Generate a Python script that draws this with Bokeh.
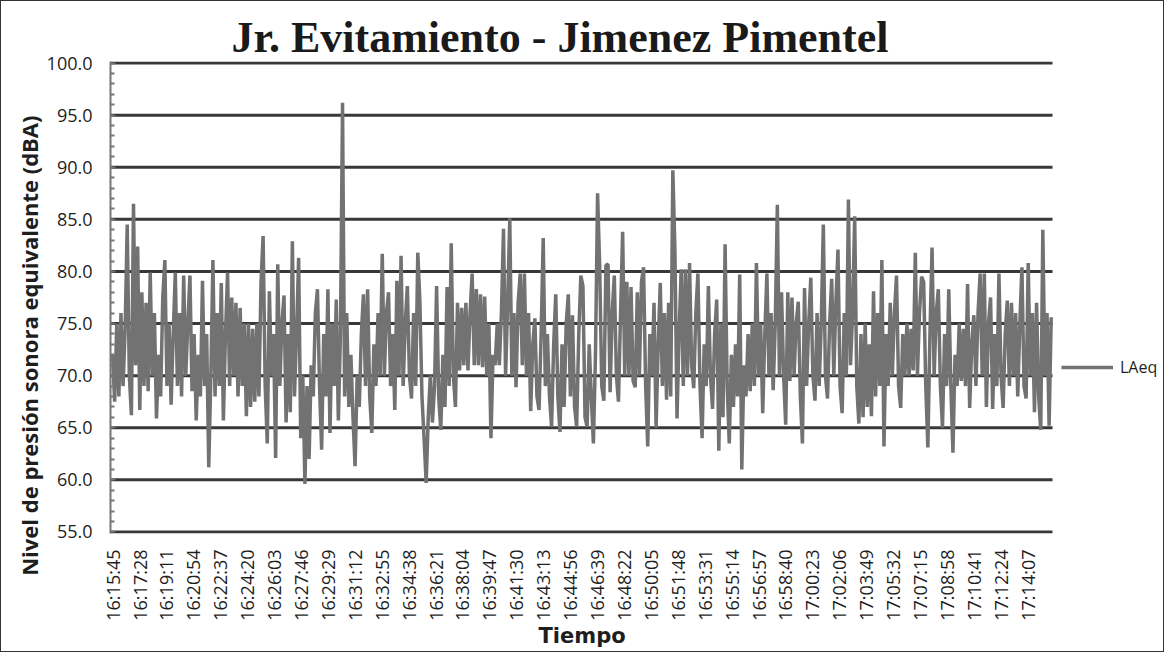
import math
from bokeh.plotting import figure
from bokeh.models import Range1d, FixedTicker, Legend, LegendItem, PrintfTickFormatter, Title
from bokeh.embed import file_html
from bokeh.resources import INLINE

title_text = "Jr. Evitamiento - Jimenez Pimentel"
y_title = "Nivel de presión sonora equivalente (dBA)"
x_title = "Tiempo"
series_name = "LAeq"

tick_labels = [
    "16:15:45", "16:17:28", "16:19:11", "16:20:54", "16:22:37", "16:24:20", "16:26:03",
    "16:27:46", "16:29:29", "16:31:12", "16:32:55", "16:34:38", "16:36:21", "16:38:04",
    "16:39:47", "16:41:30", "16:43:13", "16:44:56", "16:46:39", "16:48:22", "16:50:05",
    "16:51:48", "16:53:31", "16:55:14", "16:56:57", "16:58:40", "17:00:23", "17:02:06",
    "17:03:49", "17:05:32", "17:07:15", "17:08:58", "17:10:41", "17:12:24", "17:14:07",
]
tick_step_s = 103      # seconds between labelled categories
sample_step_s = 8      # seconds between the values read below

y_ticks = [55.0, 60.0, 65.0, 70.0, 75.0, 80.0, 85.0, 90.0, 95.0, 100.0]

# LAeq (dBA), one reading every 8 s starting 16:15:45
laeq = [
    72, 67.5, 75, 68, 76, 69, 74.5, 84.5, 70, 66.2,
    86.5, 71, 82.4, 66.7, 78, 69, 77, 68.5, 79.9, 70,
    76, 65.9, 72, 68, 77.5, 81.1, 69, 75, 67.2, 74,
    79.9, 69, 76, 68, 79.6, 70, 75, 79.6, 68.5, 74,
    65.7, 72, 68, 79.1, 69, 74, 61.2, 70, 81.1, 68,
    76, 69, 78.9, 65.7, 74, 79.9, 69, 77.5, 70, 77,
    68, 76.5, 69, 75, 66.1, 75, 67, 74.5, 67.5, 75,
    68, 78.9, 83.4, 69, 63.5, 78.1, 70, 74, 62.1, 80.7,
    69, 75, 77.7, 65.5, 74, 66.5, 82.9, 68, 74, 81.3,
    64, 70, 59.6, 69, 62, 71, 68, 76, 78.3, 69,
    62.9, 74, 68, 78.3, 64.5, 75, 69, 77.3, 65.7, 74,
    96.2, 68, 76, 67, 72, 66, 61.3, 70, 67, 74,
    77.8, 69, 78.3, 68, 64.5, 73, 69, 76, 70, 81.7,
    70, 76, 78, 69, 74, 66.7, 79.1, 70, 81.5, 69,
    75, 78.6, 70, 67.8, 76, 69, 81.8, 77.1, 68, 64,
    59.7, 66, 70, 65.5, 69, 78.6, 68, 64.8, 72, 67,
    78.5, 69, 82.7, 70, 67, 77, 70.5, 76.5, 71, 77,
    70.5, 76, 79.8, 71, 78.3, 71, 77.8, 70.8, 77.6, 70,
    75, 64, 72, 71, 75, 71, 76, 84.1, 70, 77,
    85.1, 70, 76, 68.9, 77, 79.8, 71, 79.8, 70, 76,
    66.6, 73, 75.5, 68, 66.7, 74, 83.2, 69, 74, 68,
    65.1, 73, 77.8, 68, 64.6, 73, 67, 75, 77.8, 68,
    75.8, 67, 65.1, 74, 79.6, 78.6, 66, 65.1, 73, 68,
    63.5, 72, 87.5, 80.6, 69, 67.6, 80.6, 80.7, 68.4, 76,
    79.6, 70, 67.5, 76, 83.8, 70, 79, 70, 78.5, 69.5,
    68.9, 78, 70, 79, 80.4, 69, 63.2, 74, 70, 77,
    65, 73, 78.9, 69, 76, 67.7, 77, 68, 89.7, 82.1,
    65.9, 74, 80.2, 69, 80.2, 70, 80.8, 71, 68.8, 76,
    79.8, 69, 64, 73, 69, 78.6, 70, 66.8, 74, 77.3,
    62.8, 75, 66, 82.6, 69, 63.5, 72, 67, 73, 68,
    79.7, 61.0, 71, 68, 74, 68.5, 75, 69, 80.8, 70,
    75, 66.4, 74, 79.8, 70, 76, 68.6, 75, 86.4, 70,
    78, 70, 65.3, 78, 69.5, 77.5, 70, 75, 77.1, 68,
    63.5, 78.4, 69, 75, 79.4, 70, 67.6, 76, 69, 75,
    84.5, 70, 67.8, 75, 79.3, 70, 77, 82.1, 69, 66.4,
    76, 70, 86.9, 71, 76, 85.3, 69, 65.4, 74, 66,
    75, 67, 73, 66.1, 78.1, 68, 76, 69, 81.1, 63.2,
    74, 69, 77, 70, 76, 79.6, 69, 66.9, 74, 70,
    75, 70, 74.5, 70.5, 81.8, 70, 76, 79.5, 79, 69,
    63.1, 74, 82.3, 70, 76, 78.3, 69, 65, 74, 69,
    78.3, 69, 62.6, 72, 69, 75, 69.5, 74.5, 69, 78.8,
    66.9, 73, 75.8, 69, 76, 79.8, 70, 79.8, 67, 75,
    77.5, 66.8, 74, 69, 79.8, 70, 66.9, 74, 77.2, 69,
    77, 70, 76, 68, 75, 80.4, 69, 67.8, 80.8, 70,
    76, 66.5, 77, 68, 64.8, 84, 70, 76, 65.2, 75.6,
]

seconds = [i * sample_step_s for i in range(len(laeq))]
tick_pos = [i * tick_step_s for i in range(len(tick_labels))]

FONT = "Open Sans"
W, H = 1164, 652
LEFT, TOP, BOTTOM = 109, 60, 532          # frame edges in figure pixels
PLOT_RIGHT = 1051                          # where the chart area ends
x_start, x_data_end = -8, 3597
px_per_s = (PLOT_RIGHT - LEFT) / (x_data_end - x_start)
x_end = x_start + (W - LEFT) / px_per_s    # frame runs on to hold the legend

p = figure(width=W, height=H, output_backend="svg", toolbar_location=None,
           title=None,
           x_range=Range1d(x_start, x_end), y_range=Range1d(54.85, 100.15),
           min_border_left=LEFT, min_border_right=0, min_border_top=TOP,
           min_border_bottom=H - BOTTOM)
p.styles = {"border": "1px solid #333333"}
p.outline_line_color = None
p.background_fill_color = "white"
p.border_fill_color = "white"

# horizontal grid lines across the chart area only
p.xgrid.visible = False
p.ygrid.visible = False
p.segment(x0=[x_start] * len(y_ticks), y0=y_ticks,
          x1=[x_data_end] * len(y_ticks), y1=y_ticks,
          line_color="#383838", line_width=3)

r = p.line(seconds, laeq, line_color="#727272", line_width=3.5)

# x axis
p.xaxis.ticker = FixedTicker(ticks=tick_pos)
p.xaxis.major_label_overrides = {pos: lab for pos, lab in zip(tick_pos, tick_labels)}
p.xaxis.major_label_orientation = math.pi / 2
p.xaxis.major_label_standoff = 16
p.xaxis.major_label_text_font = FONT
p.xaxis.major_label_text_font_size = "18px"
p.xaxis.major_label_text_color = "#1e1e1e"
p.xaxis.axis_line_color = None
p.xaxis.major_tick_line_color = None
p.xaxis.minor_tick_line_color = None
p.xaxis.major_tick_out = 0
p.xaxis.major_tick_in = 0
p.xaxis.minor_tick_out = 0
p.xaxis.minor_tick_in = 0

# y axis
minor = [v for v in range(55, 101)]
p.yaxis.ticker = FixedTicker(ticks=y_ticks, minor_ticks=minor)
p.yaxis.formatter = PrintfTickFormatter(format="%.1f")
p.yaxis.major_label_text_font = FONT
p.yaxis.major_label_text_font_size = "18px"
p.yaxis.major_label_text_color = "#1e1e1e"
p.yaxis.major_label_standoff = 18
p.yaxis.axis_line_color = "#777777"
p.yaxis.axis_line_width = 2
p.yaxis.major_tick_in = 5
p.yaxis.major_tick_out = 0
p.yaxis.major_tick_line_color = "#777777"
p.yaxis.minor_tick_in = 4
p.yaxis.minor_tick_out = 0
p.yaxis.minor_tick_line_color = "#777777"
p.yaxis.minor_tick_line_width = 2

# chart title (above), y-axis title (left), x-axis title (below)
p.add_layout(Title(text=title_text, align="left", offset=121, standoff=0,
                   vertical_align="bottom", text_font="Liberation Serif",
                   text_font_style="bold", text_font_size="44px",
                   text_color="#1a1a1a"), "above")
p.add_layout(Title(text=y_title, align="right", offset=54, standoff=0,
                   vertical_align="bottom", text_font=FONT,
                   text_font_style="bold", text_font_size="22px",
                   text_color="#1e1e1e"), "left")
p.add_layout(Title(text=x_title, align="left", offset=428, standoff=0,
                   vertical_align="top", text_font="DejaVu Sans",
                   text_font_style="bold", text_font_size="21px",
                   text_color="#1e1e1e"), "below")

legend = Legend(items=[LegendItem(label=series_name, renderers=[r])],
                location=(951, 155), glyph_width=52, glyph_height=20,
                label_standoff=7, padding=0, margin=0, spacing=0,
                border_line_color=None, background_fill_alpha=0,
                label_text_font=FONT, label_text_font_size="16px",
                label_text_color="#1e1e1e", label_height=20)
p.add_layout(legend)

open("out.html", "w").write(file_html(p, INLINE))
